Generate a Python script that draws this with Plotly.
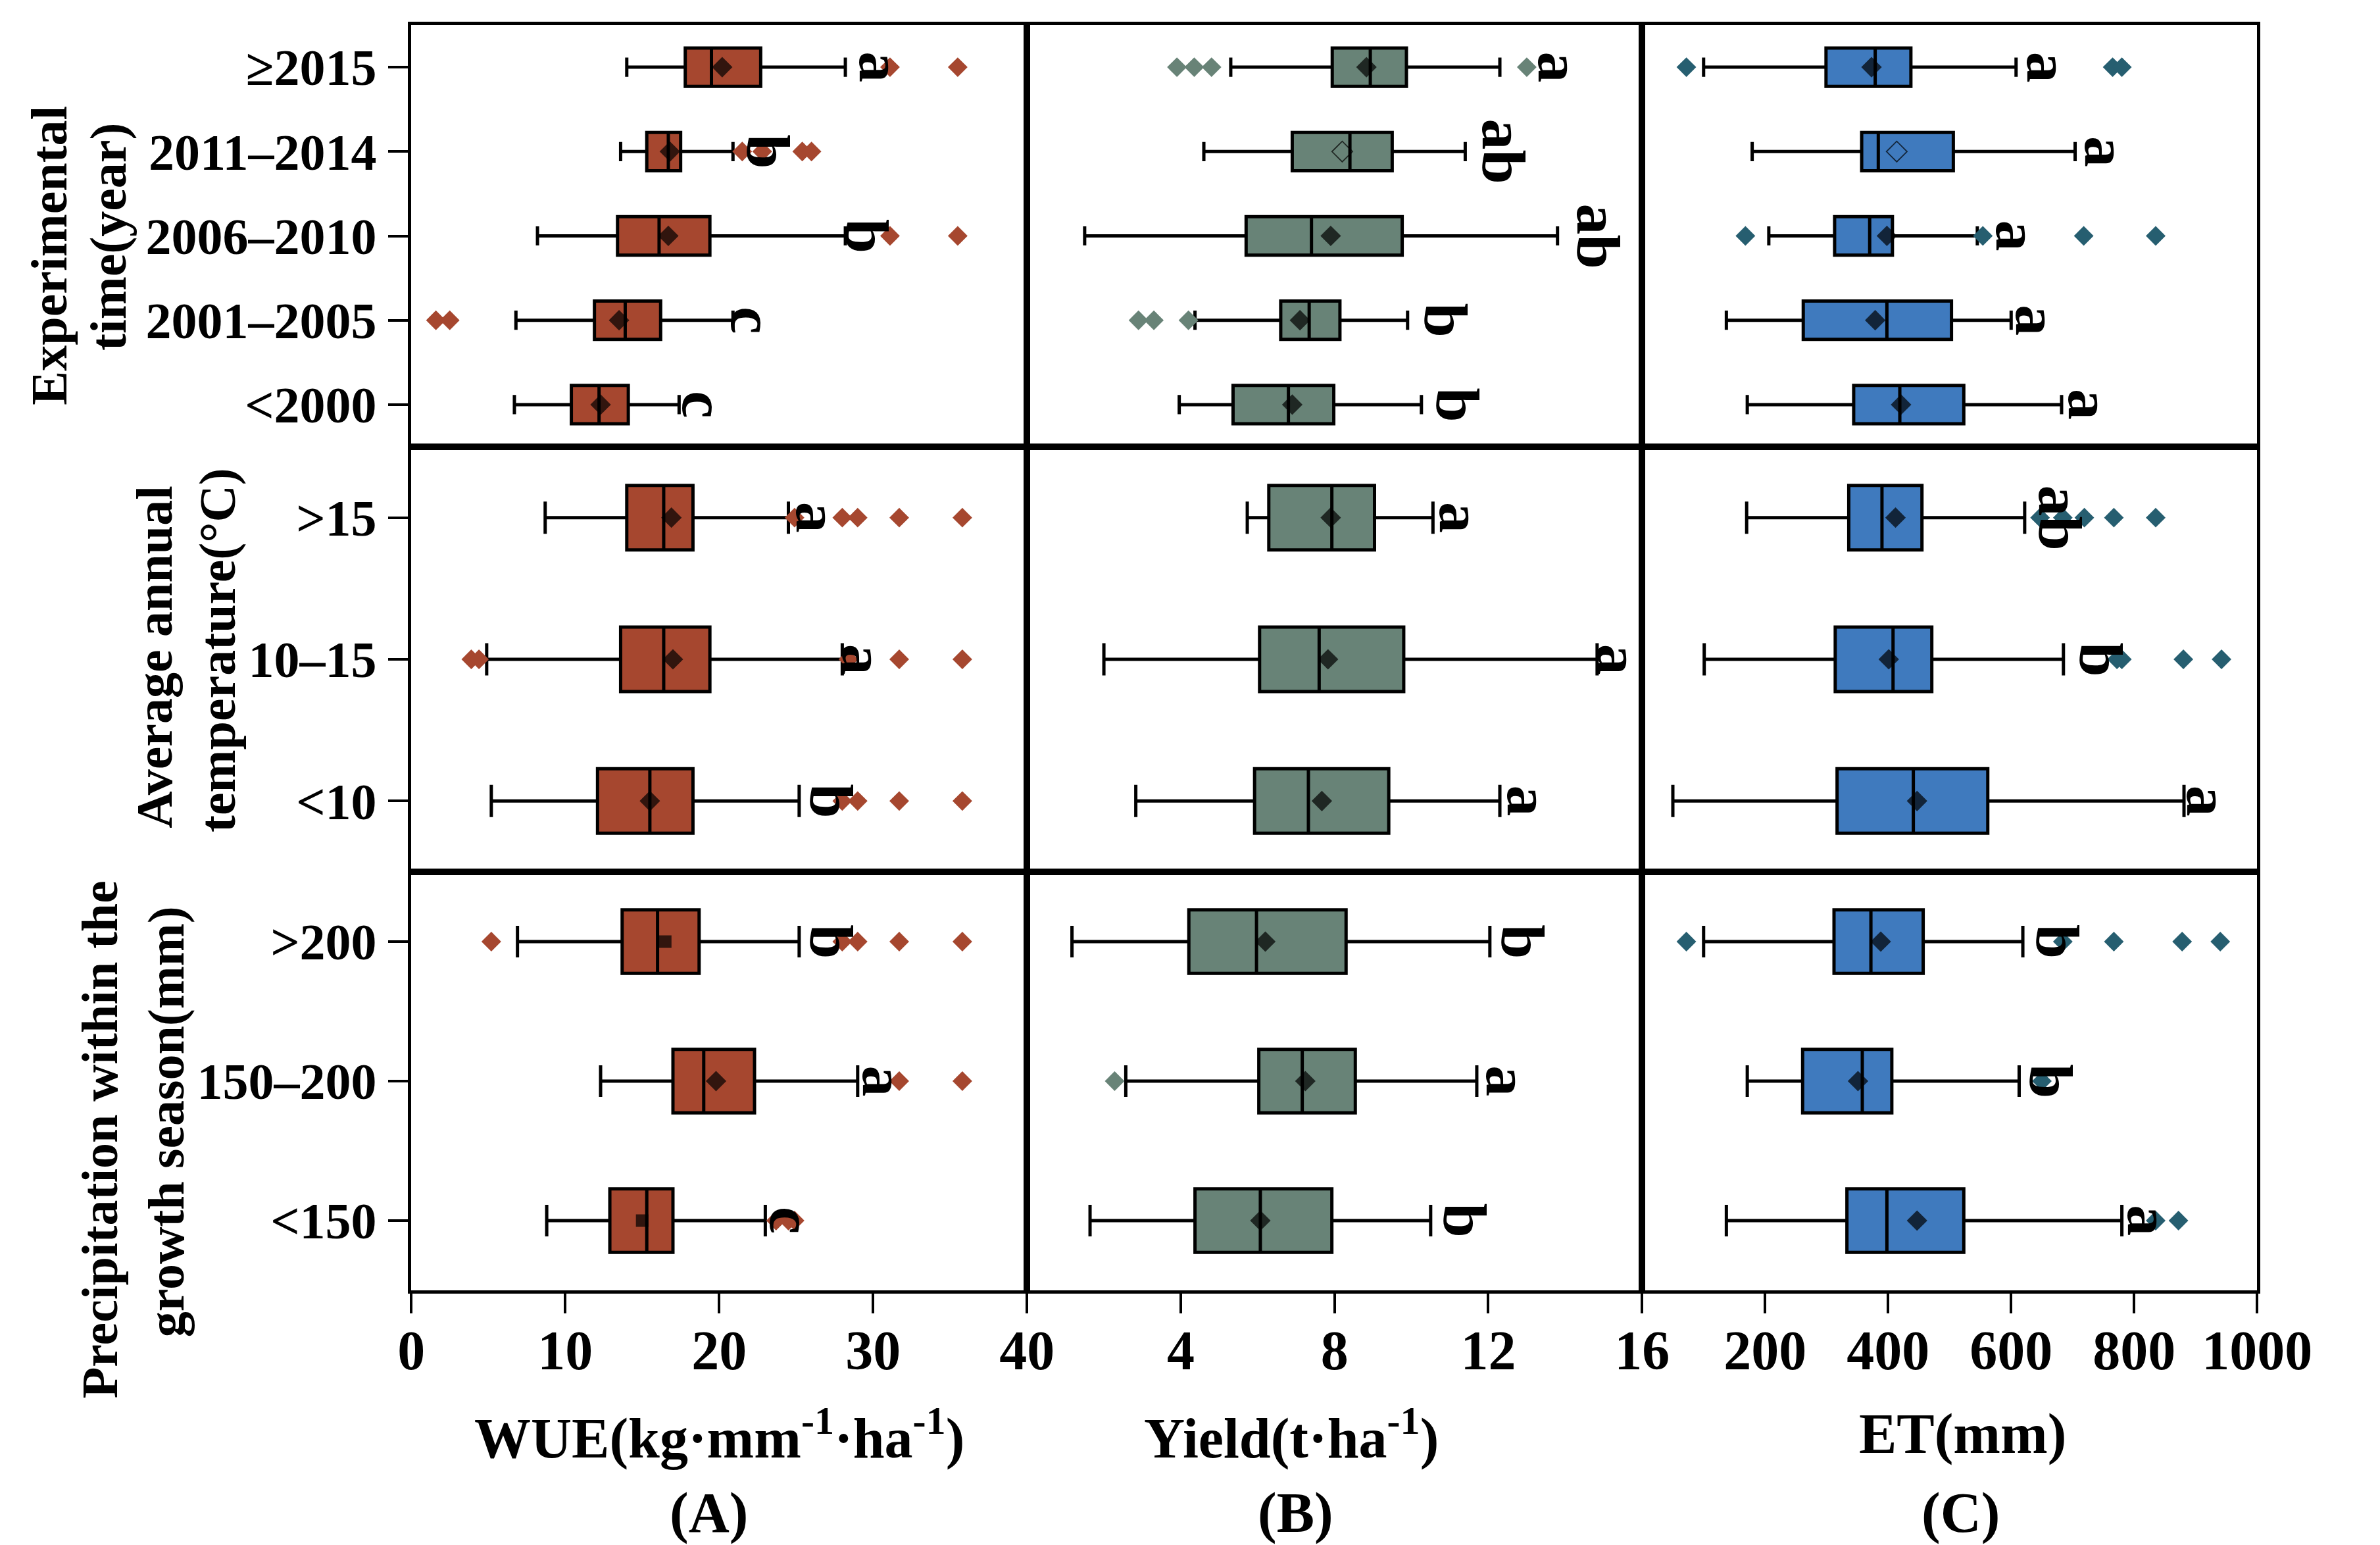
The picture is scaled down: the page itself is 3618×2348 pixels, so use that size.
import plotly.graph_objects as go

W, H = 3618, 2348
FONT = "Liberation Serif"

# ---------------- categories (top to bottom) ----------------
time_cats = ["≥2015", "2011–2014", "2006–2010", "2001–2005", "<2000"]
temp_cats = [">15", "10–15", "<10"]
prec_cats = [">200", "150–200", "<150"]

# ---------------- WUE (kg·mm-1·ha-1) ----------------
wue_time_low = [14.0, 13.6, 8.2, 6.8, 6.7]
wue_time_q1 = [17.8, 15.3, 13.4, 11.9, 10.4]
wue_time_med = [19.5, 16.7, 16.1, 13.9, 12.2]
wue_time_q3 = [22.7, 17.5, 19.4, 16.2, 14.1]
wue_time_high = [28.2, 20.9, 28.2, 20.9, 17.4]
wue_time_mean = [20.2, 16.8, 16.7, 13.5, 12.3]
wue_time_out = [[31.1, 35.5], [21.5, 22.8, 25.4, 26.0], [31.1, 35.5], [1.6, 2.5], []]
wue_time_letters = ["a", "b", "b", "c", "c"]
wue_time_letter_x = [30.5, 23.2, 29.6, 22.2, 19.0]

wue_temp_low = [8.7, 4.9, 5.2]
wue_temp_q1 = [14.0, 13.6, 12.1]
wue_temp_med = [16.4, 16.4, 15.5]
wue_temp_q3 = [18.3, 19.4, 18.3]
wue_temp_high = [24.5, 28.0, 25.2]
wue_temp_mean = [16.9, 17.0, 15.5]
wue_temp_out = [[24.9, 28.0, 29.0, 31.7, 35.8], [3.9, 4.4, 28.4, 31.7, 35.8], [28.0, 29.0, 31.7, 35.8]]
wue_temp_letters = ["a", "a", "b"]
wue_temp_letter_x = [26.4, 29.4, 27.3]

wue_prec_low = [6.9, 12.3, 8.8]
wue_prec_q1 = [13.7, 17.0, 12.9]
wue_prec_med = [16.0, 19.0, 15.3]
wue_prec_q3 = [18.7, 22.3, 17.0]
wue_prec_high = [25.2, 29.0, 23.0]
wue_prec_mean = [16.5, 19.8, 15.0]
wue_prec_out = [[5.2, 28.0, 29.0, 31.7, 35.8], [31.7, 35.8], [23.7, 24.5, 24.9]]
wue_prec_letters = ["b", "a", "c"]
wue_prec_letter_x = [27.3, 30.7, 24.7]

# ---------------- Yield (t·ha-1) ----------------
yld_time_low = [5.3, 4.6, 1.5, 4.37, 3.96]
yld_time_q1 = [7.94, 6.9, 5.7, 6.6, 5.36]
yld_time_med = [8.93, 8.4, 7.4, 7.34, 6.8]
yld_time_q3 = [9.87, 9.5, 9.76, 8.14, 7.98]
yld_time_high = [12.3, 11.4, 13.8, 9.9, 10.26]
yld_time_mean = [8.83, 8.2, 7.9, 7.1, 6.9]
yld_time_out = [[3.9, 4.35, 4.8, 13.0], [], [], [2.9, 3.3, 4.2], []]
yld_time_letters = ["a", "ab", "ab", "b", "b"]
yld_time_letter_x = [13.85, 12.4, 14.85, 10.9, 11.2]

yld_temp_low = [5.73, 2.0, 2.83]
yld_temp_q1 = [6.29, 6.05, 5.92]
yld_temp_med = [7.93, 7.6, 7.32]
yld_temp_q3 = [9.04, 9.8, 9.41]
yld_temp_high = [10.56, 14.83, 12.3]
yld_temp_mean = [7.9, 7.83, 7.67]
yld_temp_out = [[], [], []]
yld_temp_letters = ["a", "a", "a"]
yld_temp_letter_x = [11.3, 15.4, 13.05]

yld_prec_low = [1.17, 2.57, 1.64]
yld_prec_q1 = [4.21, 6.03, 4.37]
yld_prec_med = [5.97, 7.16, 6.07]
yld_prec_q3 = [8.3, 8.54, 7.93]
yld_prec_high = [12.04, 11.7, 10.5]
yld_prec_mean = [6.2, 7.24, 6.07]
yld_prec_out = [[], [2.28], []]
yld_prec_letters = ["b", "a", "b"]
yld_prec_letter_x = [12.9, 12.5, 11.4]

# ---------------- ET (mm) ----------------
et_time_low = [100, 179, 206, 137, 171]
et_time_q1 = [299, 357, 313, 262, 344]
et_time_med = [379, 384, 370, 398, 419]
et_time_q3 = [437, 506, 407, 503, 523]
et_time_high = [608, 704, 545, 600, 682]
et_time_mean = [373, 414, 398, 379, 421]
et_time_out = [[72, 765, 780], [], [168, 554, 718, 835], [], []]
et_time_letters = ["a", "a", "a", "a", "a"]
et_time_letter_x = [661, 754, 610, 643, 728]

et_temp_low = [170, 101, 50]
et_temp_q1 = [336, 314, 317]
et_temp_med = [390, 408, 441]
et_temp_q3 = [455, 471, 562]
et_temp_high = [622, 685, 881]
et_temp_mean = [412, 401, 447]
et_temp_out = [[647, 684, 719, 767, 835], [772, 780, 880, 942], []]
et_temp_letters = ["ab", "b", "a"]
et_temp_letter_x = [680, 746, 920]

et_prec_low = [100, 171, 137]
et_prec_q1 = [312, 261, 333]
et_prec_med = [372, 358, 398]
et_prec_q3 = [457, 406, 523]
et_prec_high = [619, 613, 780]
et_prec_mean = [388, 351, 447]
et_prec_out = [[72, 684, 767, 878, 940], [650], [835, 872]]
et_prec_letters = ["b", "b", "a"]
et_prec_letter_x = [676, 665, 824]

# mean marker symbols (most are filled diamonds)
time_mean_sym_wue = ["diamond"] * 5
time_mean_sym_other = ["diamond", "diamond-open", "diamond", "diamond", "diamond"]
temp_mean_sym = ["diamond"] * 3
prec_mean_sym_wue = ["square", "diamond", "square"]
prec_mean_sym_other = ["diamond"] * 3

# tick labels (0 of panels B and C coincides with the previous panel's last tick)
wue_ticks = [0, 10, 20, 30, 40]
wue_ticktext = ["0", "10", "20", "30", "40"]
yld_ticks = [4, 8, 12, 16]
yld_ticktext = ["4", "8", "12", "16"]
et_ticks = [200, 400, 600, 800, 1000]
et_ticktext = ["200", "400", "600", "800", "1000"]

# ---------------- styling ----------------
fill_colors = ["#A6472F", "#688377", "#3F7ABE"]
out_colors = ["#A6472F", "#688377", "#265E70"]
x_ranges = [[0, 40], [0, 16], [0, 1000]]
x_tickvals = [wue_ticks, yld_ticks, et_ticks]
x_ticktexts = [wue_ticktext, yld_ticktext, et_ticktext]
col_px = [(614, 1578), (1578, 2541), (2541, 3504)]
row_px = [(30, 671), (671, 1317), (1317, 1953)]
row_cats = [time_cats, temp_cats, prec_cats]

panels = {
    (1, 1): (wue_time_low, wue_time_q1, wue_time_med, wue_time_q3, wue_time_high, wue_time_mean,
             time_mean_sym_wue, wue_time_out, wue_time_letters, wue_time_letter_x),
    (2, 1): (wue_temp_low, wue_temp_q1, wue_temp_med, wue_temp_q3, wue_temp_high, wue_temp_mean,
             temp_mean_sym, wue_temp_out, wue_temp_letters, wue_temp_letter_x),
    (3, 1): (wue_prec_low, wue_prec_q1, wue_prec_med, wue_prec_q3, wue_prec_high, wue_prec_mean,
             prec_mean_sym_wue, wue_prec_out, wue_prec_letters, wue_prec_letter_x),
    (1, 2): (yld_time_low, yld_time_q1, yld_time_med, yld_time_q3, yld_time_high, yld_time_mean,
             time_mean_sym_other, yld_time_out, yld_time_letters, yld_time_letter_x),
    (2, 2): (yld_temp_low, yld_temp_q1, yld_temp_med, yld_temp_q3, yld_temp_high, yld_temp_mean,
             temp_mean_sym, yld_temp_out, yld_temp_letters, yld_temp_letter_x),
    (3, 2): (yld_prec_low, yld_prec_q1, yld_prec_med, yld_prec_q3, yld_prec_high, yld_prec_mean,
             prec_mean_sym_other, yld_prec_out, yld_prec_letters, yld_prec_letter_x),
    (1, 3): (et_time_low, et_time_q1, et_time_med, et_time_q3, et_time_high, et_time_mean,
             time_mean_sym_other, et_time_out, et_time_letters, et_time_letter_x),
    (2, 3): (et_temp_low, et_temp_q1, et_temp_med, et_temp_q3, et_temp_high, et_temp_mean,
             temp_mean_sym, et_temp_out, et_temp_letters, et_temp_letter_x),
    (3, 3): (et_prec_low, et_prec_q1, et_prec_med, et_prec_q3, et_prec_high, et_prec_mean,
             prec_mean_sym_other, et_prec_out, et_prec_letters, et_prec_letter_x),
}


def esc(s):
    return s.replace("<", "&lt;").replace(">", "&gt;")


fig = go.Figure()
layout = dict(
    width=W, height=H,
    margin=dict(l=0, r=0, t=0, b=0),
    paper_bgcolor="white", plot_bgcolor="white",
    showlegend=False, boxgap=0.35,
    font=dict(family=FONT, color="black"),
)
annotations = []

for (r, c), (low, q1, med, q3, high, mean, msym, outs, letters, lx) in panels.items():
    idx = (r - 1) * 3 + c
    xa = "x" if idx == 1 else f"x{idx}"
    ya = "y" if idx == 1 else f"y{idx}"
    cats = row_cats[r - 1]

    fig.add_trace(go.Box(
        y=cats, q1=q1, median=med, q3=q3, lowerfence=low, upperfence=high,
        orientation="h", fillcolor=fill_colors[c - 1],
        line=dict(color="black", width=5), whiskerwidth=0.5,
        boxpoints=False, xaxis=xa, yaxis=ya, hoverinfo="skip",
    ))
    # outliers
    ox, oy = [], []
    for cat, vals in zip(cats, outs):
        for v in vals:
            ox.append(v)
            oy.append(cat)
    if ox:
        fig.add_trace(go.Scatter(
            x=ox, y=oy, mode="markers", xaxis=xa, yaxis=ya,
            marker=dict(symbol="diamond", size=23, color=out_colors[c - 1], line=dict(width=0)),
            hoverinfo="skip",
        ))
    # means
    fig.add_trace(go.Scatter(
        x=mean, y=cats, mode="markers", xaxis=xa, yaxis=ya,
        marker=dict(
            symbol=msym,
            size=[19 if s == "square" else 24 for s in msym],
            color="black",
            line=dict(width=[1.8 if s.endswith("open") else 0 for s in msym], color="black"),
        ),
        hoverinfo="skip",
    ))
    # significance letters
    for cat, l, x in zip(cats, letters, lx):
        annotations.append(dict(
            x=x, y=cat, xref=xa, yref=ya, text=f"<b>{l}</b>", showarrow=False,
            textangle=90, xanchor="center", yanchor="middle",
            font=dict(family=FONT, size=94, color="black"),
        ))

    x0, x1 = col_px[c - 1]
    y0, y1 = row_px[r - 1]
    xaxis = dict(
        domain=[x0 / W, x1 / W], anchor=ya, range=x_ranges[c - 1],
        showline=True, mirror=True, linecolor="black", linewidth=5,
        showgrid=False, zeroline=False,
    )
    if r == 3:
        xaxis.update(
            tickmode="array", tickvals=x_tickvals[c - 1], ticktext=x_ticktexts[c - 1],
            ticks="outside", ticklen=30, tickwidth=4, tickcolor="black",
            ticklabelstandoff=-16,
            tickfont=dict(family=FONT, size=84, color="black", weight="bold"),
        )
    else:
        xaxis.update(ticks="", showticklabels=False)
    yaxis = dict(
        domain=[1 - y1 / H, 1 - y0 / H], anchor=xa, type="category",
        categoryorder="array", categoryarray=cats[::-1],
        range=[-0.5, len(cats) - 0.5],
        showline=True, mirror=True, linecolor="black", linewidth=5,
        showgrid=False, zeroline=False,
    )
    if c == 1:
        yaxis.update(
            tickmode="array", tickvals=cats, ticktext=[esc(t) for t in cats],
            ticks="outside", ticklen=30, tickwidth=4, tickcolor="black",
            ticklabelstandoff=2,
            tickfont=dict(family=FONT, size=78, color="black", weight="bold"),
        )
    else:
        yaxis.update(ticks="", showticklabels=False)
    layout["xaxis" if idx == 1 else f"xaxis{idx}"] = xaxis
    layout["yaxis" if idx == 1 else f"yaxis{idx}"] = yaxis

# row titles (rotated), one annotation per line: (text, x centre px, y centre px)
row_title_lines = [
    ("Experimental", 46, 380),
    ("time(year)", 139, 352),
    ("Average annual", 212, 990),
    ("temperature(°C)", 310, 980),
    ("Precipitation within the", 126, 1724),
    ("growth season(mm)", 230, 1697),
]
for text, px, py in row_title_lines:
    annotations.append(dict(
        x=px / W, y=1 - py / H, xref="paper", yref="paper", text=f"<b>{text}</b>",
        showarrow=False, textangle=-90, xanchor="center", yanchor="middle",
        font=dict(family=FONT, size=78, color="black"),
    ))

# column titles
col_titles = [
    ("WUE(kg·mm<sup>-1</sup>·ha<sup>-1</sup>)", 1096, 2171),
    ("Yield(t·ha<sup>-1</sup>)", 1992, 2171),
    ("ET(mm)", 3043, 2171),
    ("(A)", 1080, 2291),
    ("(B)", 1998, 2291),
    ("(C)", 3040, 2291),
]
for text, px, py in col_titles:
    annotations.append(dict(
        x=px / W, y=1 - py / H, xref="paper", yref="paper", text=f"<b>{text}</b>",
        showarrow=False, xanchor="center", yanchor="middle",
        font=dict(family=FONT, size=86, color="black"),
    ))

layout["annotations"] = annotations
fig.update_layout(**layout)
fig.write_html("out.html")
